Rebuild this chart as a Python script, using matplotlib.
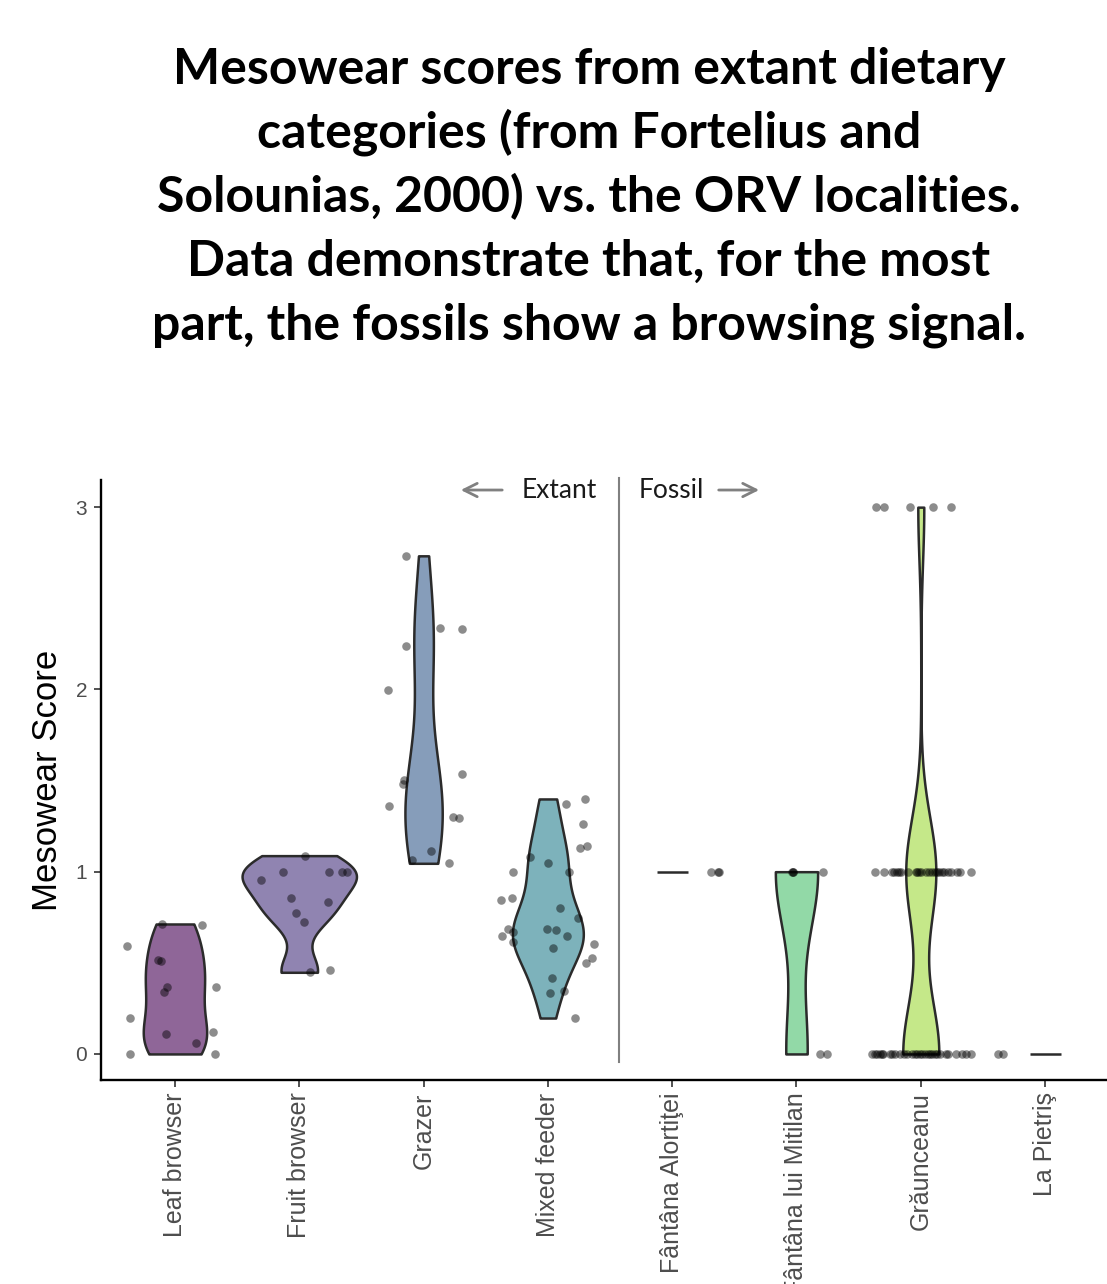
import numpy as np
import matplotlib
matplotlib.use('Agg')
import matplotlib.pyplot as plt
from matplotlib.colors import to_rgba

# categories on the x axis
categories = ['Leaf browser', 'Fruit browser', 'Grazer', 'Mixed feeder',
              'Fântâna Alortiţei', 'Fântâna lui Mitilan', 'Grăunceanu', 'La Pietriş']

# mesowear scores, with the horizontal jitter of each point
leaf_vals = [0.713, 0.709, 0.592, 0.514, 0.510, 0.369, 0.342, 0.366, 0.199, 0.122, 0.108, 0.059, 0.0, 0.0]
leaf_jit = [-0.107, 0.22, -0.384, -0.14, -0.115, -0.064, -0.091, 0.33, -0.362, 0.31, -0.07, 0.17, -0.365, 0.324]

fruit_vals = [1.088, 1.0, 1.0, 1.0, 1.0, 0.954, 0.856, 0.832, 0.772, 0.724, 0.448, 0.459]
fruit_jit = [0.048, -0.129, 0.239, 0.34, 0.386, -0.306, -0.067, 0.228, -0.027, 0.038, 0.086, 0.247]

grazer_vals = [2.733, 2.339, 2.333, 2.240, 1.997, 1.538, 1.501, 1.479, 1.362, 1.300, 1.293, 1.115, 1.064, 1.046]
grazer_jit = [-0.142, 0.129, 0.306, -0.142, -0.29, 0.31, -0.158, -0.169, -0.276, 0.239, 0.282, 0.062, -0.094, 0.203]

mixed_vals = [1.399, 1.371, 1.263, 1.128, 1.141, 1.082, 1.046, 0.998, 0.998, 0.856, 0.843, 0.803, 0.746,
              0.686, 0.687, 0.680, 0.671, 0.649, 0.647, 0.616, 0.602, 0.580, 0.525, 0.497, 0.417,
              0.346, 0.333, 0.197]
mixed_jit = [0.298, 0.148, 0.279, 0.26, 0.311, -0.142, 0.002, -0.28, 0.171, -0.289, -0.375, 0.097, 0.239,
             -0.322, -0.008, 0.067, -0.28, -0.367, 0.156, -0.284, 0.37, 0.04, 0.356, 0.303, 0.035,
             0.132, 0.016, 0.215]

alort_vals = [1.0, 1.0, 1.0]
alort_jit = [0.309, 0.37, 0.38]

mitilan_vals = [1.0, 1.0, 1.0, 1.0, 0.0, 0.0]
mitilan_jit = [-0.04, -0.03, -0.025, 0.215, 0.193, 0.247]

graun_vals = [3.0] * 5 + [1.0] * 25 + [0.0] * 30
graun_jit = ([-0.362, -0.295, -0.088, 0.097, 0.241] +
             [-0.37, -0.295, -0.228, -0.215, -0.193, -0.174, -0.161, -0.102, -0.04, -0.027,
              -0.013, 0.0, 0.04, 0.067, 0.094, 0.113, 0.13, 0.148, 0.167, 0.188,
              0.22, 0.247, 0.295, 0.316, 0.402] +
             [-0.389, -0.37, -0.349, -0.327, -0.309, -0.3, -0.247, -0.228, -0.209, -0.166,
              -0.134, -0.107, -0.067, -0.048, -0.027, -0.005, 0.013, 0.032, 0.054, 0.075,
              0.094, 0.113, 0.134, 0.155, 0.201, 0.22, 0.282, 0.335, 0.362, 0.402])

pietris_vals = [0.0, 0.0]
pietris_jit = [-0.375, -0.335]

all_vals = [leaf_vals, fruit_vals, grazer_vals, mixed_vals, alort_vals, mitilan_vals, graun_vals, pietris_vals]
all_jit = [leaf_jit, fruit_jit, grazer_jit, mixed_jit, alort_jit, mitilan_jit, graun_jit, pietris_jit]

fills = ['#440154', '#46337E', '#365C8D', '#277F8E', '#1FA187', '#4AC16D', '#9FDA3A', '#FDE725']
violin_widths = [0.51, 0.92, 0.30, 0.57, 0.25, 0.34, 0.29, 0.25]


def nrd0(kde):
    # R's bw.nrd0, expressed as a factor of the sample sd
    x = kde.dataset.ravel()
    sd = np.std(x, ddof=1)
    q75, q25 = np.percentile(x, [75, 25])
    lo = min(sd, (q75 - q25) / 1.34)
    if lo == 0:
        lo = sd
    return 0.9 * lo * len(x) ** -0.2 / sd


fig = plt.figure(figsize=(11.07, 12.84), dpi=100)
ax = fig.add_axes([101 / 1107, 204 / 1284, 1 - 101 / 1107, 600 / 1284])

positions = np.arange(1, len(categories) + 1)

# violins for groups with spread; flat lines for groups where all values agree
spread = [i for i, v in enumerate(all_vals) if len(set(v)) > 1]
flat = [i for i, v in enumerate(all_vals) if len(set(v)) == 1]

parts = ax.violinplot([all_vals[i] for i in spread], positions=positions[spread],
                      widths=[violin_widths[i] for i in spread], showextrema=False,
                      points=300, bw_method=nrd0)
for body, i in zip(parts['bodies'], spread):
    body.set_alpha(None)
    body.set_facecolor(to_rgba(fills[i], 0.6))
    body.set_edgecolor('#2b2b2b')
    body.set_linewidth(1.8)
    body.set_zorder(2)

for i in flat:
    ax.hlines(all_vals[i][0], positions[i] - violin_widths[i] / 2, positions[i] + violin_widths[i] / 2,
              color='#2b2b2b', lw=1.8, zorder=2)

for i in range(len(categories)):
    ax.scatter(positions[i] + np.array(all_jit[i]), all_vals[i], s=38, color='black',
               alpha=0.45, linewidths=0, zorder=3)

# Extant / Fossil divider
ax.plot([4.572, 4.572], [-0.044, 3.16], color='#808080', lw=1.5, zorder=1, clip_on=False)
ax.text(4.093, 3.094, 'Extant', ha='center', va='center', fontsize=19, family='Lato', color='#1a1a1a')
ax.text(4.995, 3.094, 'Fossil', ha='center', va='center', fontsize=19, family='Lato', color='#1a1a1a')
ax.annotate('', xy=(3.277, 3.094), xytext=(3.655, 3.094),
            arrowprops=dict(arrowstyle='->', color='#808080', lw=2, mutation_scale=24))
ax.annotate('', xy=(5.722, 3.094), xytext=(5.352, 3.094),
            arrowprops=dict(arrowstyle='->', color='#808080', lw=2, mutation_scale=24))

ax.set_xlim(0.405, 8.498)
ax.set_ylim(-0.143, 3.149)
ax.set_xticks(positions)
ax.set_xticklabels(categories, rotation=90, fontsize=18, color='#4D4D4D', family='Liberation Sans')
ax.set_yticks([0, 1, 2, 3])
ax.set_yticklabels(['0', '1', '2', '3'], fontsize=15, color='#4D4D4D', family='Liberation Sans')
ax.tick_params(axis='both', length=5, width=1.2, color='#333333')
ax.tick_params(axis='x', pad=4)
ax.tick_params(axis='y', pad=5)
ax.set_ylabel('Mesowear Score', fontsize=25, family='Liberation Sans', labelpad=8)

for side in ['top', 'right']:
    ax.spines[side].set_visible(False)
for side in ['left', 'bottom']:
    ax.spines[side].set_linewidth(1.7)

title_lines = ['Mesowear scores from extant dietary',
               'categories (from Fortelius and',
               'Solounias, 2000) vs. the ORV localities.',
               'Data demonstrate that, for the most',
               'part, the fossils show a browsing signal.']
baselines = [84, 148, 212, 276, 340]
for line, yb in zip(title_lines, baselines):
    fig.text(589 / 1107, 1 - yb / 1284, line, ha='center', va='baseline',
             fontsize=36, fontweight='bold', family='Lato')

fig.savefig('out.png', dpi=100)
